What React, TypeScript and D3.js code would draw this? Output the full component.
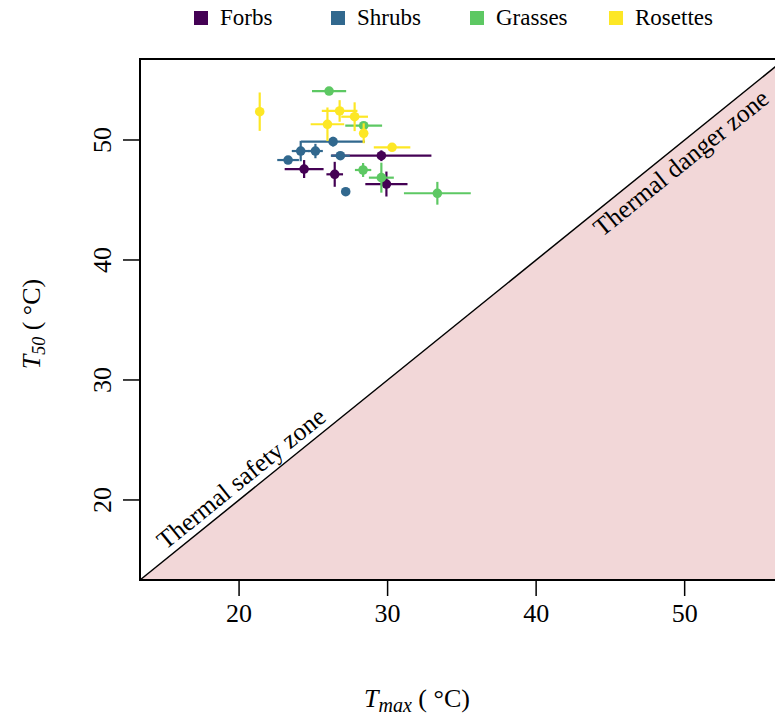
import React from "react";
import * as d3 from "d3";

const groups = ["Forbs", "Shrubs", "Grasses", "Rosettes"];
const colors = ["#440154", "#31688E", "#5DC863", "#FDE725"];

// [Tmax, T50, Tmax error, T50 error]
const forbs = [
  [29.58, 48.69, 3.37, 0.45],
  [24.38, 47.58, 1.31, 0.75],
  [26.44, 47.14, 0.56, 1.04],
  [29.92, 46.33, 1.42, 1.04],
];
const shrubs = [
  [26.33, 49.86, 2.15, 0.4],
  [24.15, 49.08, 0.6, 0.85],
  [25.14, 49.08, 0.5, 0.6],
  [23.3, 48.33, 0.73, 0.3],
  [26.82, 48.69, 0.64, 0.3],
  [27.18, 45.69, 0, 0],
];
const grasses = [
  [26.06, 54.08, 1.15, 0.2],
  [28.39, 51.19, 1.24, 0.3],
  [28.35, 47.5, 0.55, 0.58],
  [29.58, 46.86, 0.84, 1.25],
  [33.35, 45.56, 2.25, 0.95],
];
const rosettes = [
  [21.39, 52.36, 0, 1.6],
  [26.77, 52.42, 1.2, 0.9],
  [27.78, 51.94, 0.9, 1.2],
  [25.95, 51.31, 1.13, 1.4],
  [28.39, 50.56, 0, 0.83],
  [30.3, 49.39, 1.23, 0.2],
];
const series = [forbs, shrubs, grasses, rosettes];
const xTicks = [20, 30, 40, 50];
const yTicks = [20, 30, 40, 50];
const lim = [13.33, 56.75];

const FONT = "'Liberation Serif', 'Times New Roman', serif";

export default function App() {
  const W = 775, H = 719;
  const left = 140, top = 59, bottom = 580;
  const x = d3.scaleLinear().domain(lim).range([left, left + (lim[1] - lim[0]) * 14.853]);
  const y = d3.scaleLinear().domain(lim).range([bottom, top]);
  const xr = x.range()[1];
  const poly = [
    [x(lim[0]), y(lim[0])],
    [x(lim[1]), y(lim[1])],
    [x(lim[1]), y(lim[0])],
  ];
  const ang = (Math.atan2(y(50) - y(20), x(50) - x(20)) * 180) / Math.PI;
  const sx = 20.8, dx = 49.1;
  const legendX = [194, 331, 470, 609];
  return (
    <svg width={W} height={H} style={{ display: "block", position: "absolute", left: 0, top: 0, background: "#fff" }} fontFamily={FONT}>
      <rect x={0} y={0} width={W} height={H} fill="#fff" />
      <polygon points={poly.map((p) => p.join(",")).join(" ")} fill="#F2D7D8" />
      <line x1={x(lim[0])} y1={y(lim[0])} x2={x(lim[1])} y2={y(lim[1])} stroke="#000" strokeWidth={1.5} />
      <text
        transform={`translate(${x(sx)},${y(sx)}) rotate(${ang})`}
        dy={-7}
        textAnchor="middle"
        fontSize={25.5}
      >
        Thermal safety zone
      </text>
      <text
        transform={`translate(${x(dx)},${y(dx)}) rotate(${ang})`}
        dy={24}
        textAnchor="middle"
        fontSize={25.5}
      >
        Thermal danger zone
      </text>
      {series.map((s, gi) => (
        <g key={groups[gi]} stroke={colors[gi]} fill={colors[gi]}>
          {s.map((d, i) => (
            <g key={i}>
              {d[2] > 0 && <line x1={x(d[0] - d[2])} x2={x(d[0] + d[2])} y1={y(d[1])} y2={y(d[1])} strokeWidth={2.2} />}
              {d[3] > 0 && <line x1={x(d[0])} x2={x(d[0])} y1={y(d[1] - d[3])} y2={y(d[1] + d[3])} strokeWidth={2.2} />}
              <circle cx={x(d[0])} cy={y(d[1])} r={4.8} stroke="none" />
            </g>
          ))}
        </g>
      ))}
      <path d={`M${xr},${top}H${left}V${bottom}H${xr}`} fill="none" stroke="#000" strokeWidth={2} />
      {xTicks.map((t) => (
        <g key={t}>
          <line x1={x(t)} x2={x(t)} y1={bottom} y2={bottom + 16} stroke="#000" strokeWidth={1.5} />
          <text x={x(t)} y={bottom + 42} textAnchor="middle" fontSize={26}>{t}</text>
        </g>
      ))}
      {yTicks.map((t) => (
        <g key={t}>
          <line x1={left - 17} x2={left} y1={y(t)} y2={y(t)} stroke="#000" strokeWidth={1.5} />
          <text transform={`translate(${left - 29},${y(t)}) rotate(-90)`} textAnchor="middle" fontSize={26}>{t}</text>
        </g>
      ))}
      <text x={417} y={707} textAnchor="middle" fontSize={26}>
        <tspan fontStyle="italic">T</tspan>
        <tspan fontStyle="italic" fontSize={20} dy={5}>max</tspan>
        <tspan dy={-5}> ( °C)</tspan>
      </text>
      <text transform={`translate(40,324) rotate(-90)`} textAnchor="middle" fontSize={26}>
        <tspan fontStyle="italic">T</tspan>
        <tspan fontStyle="italic" fontSize={18} dy={5}>50</tspan>
        <tspan dy={-5}> ( °C)</tspan>
      </text>
      {groups.map((g, i) => (
        <g key={g}>
          <rect x={legendX[i]} y={11} width={14} height={14} fill={colors[i]} />
          <text x={legendX[i] + 26} y={25} fontSize={23}>{g}</text>
        </g>
      ))}
    </svg>
  );
}
